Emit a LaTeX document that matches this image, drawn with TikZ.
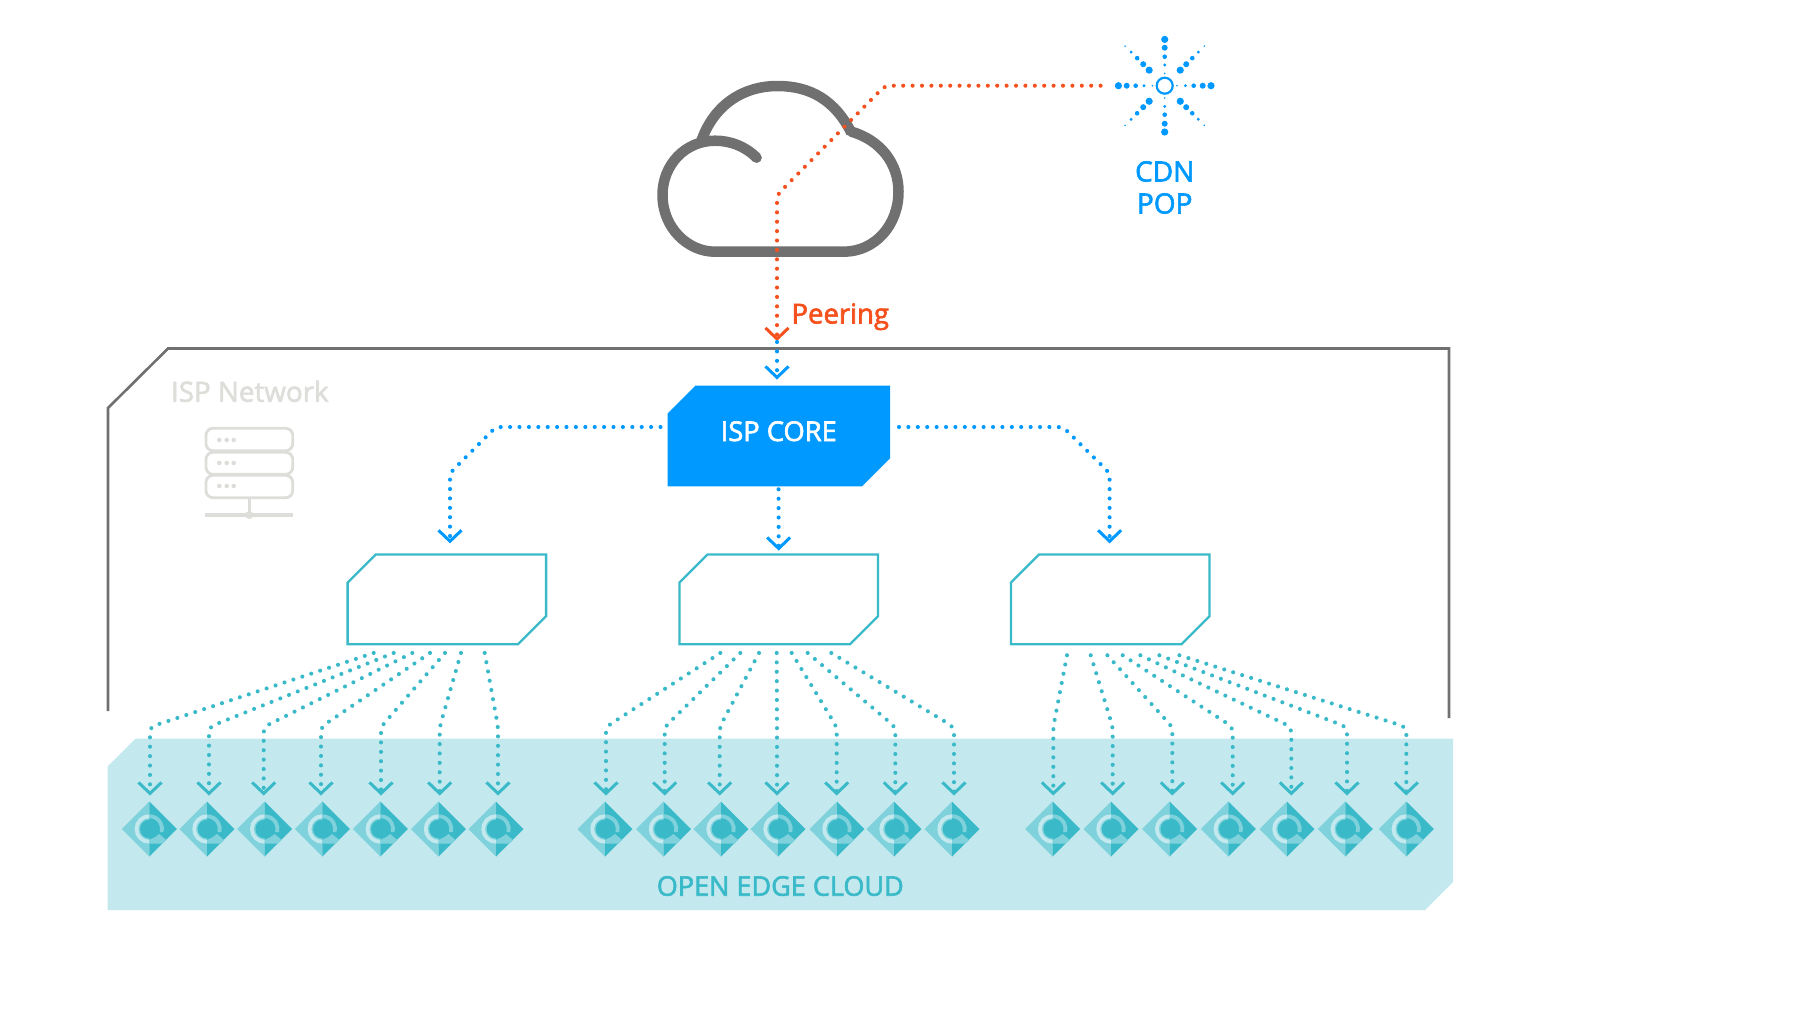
\documentclass[tikz,border=0pt]{standalone}
\usepackage{fontspec}
\setmainfont{Open Sans}
\usetikzlibrary{arrows.meta,calc,backgrounds}
\definecolor{cblue}{HTML}{0099FF}
\definecolor{corange}{HTML}{F4511E}
\definecolor{cteal}{HTML}{3ABAC8}
\definecolor{cmid}{HTML}{7FD2DB}
\definecolor{clight}{HTML}{C3E9EF}
\definecolor{cgrey}{HTML}{707070}
\definecolor{cpale}{HTML}{DDDDDA}
\newcommand{\lblfont}[1]{\fontsize{#1}{32}\selectfont}
\newcommand{\medtext}[1]{\special{pdf:code q 2 Tr 0.6 w}#1\special{pdf:code Q}}
\tikzset{
  dots/.style={line width=4.1pt,line cap=round,dash pattern=on 0pt off 9.4pt,rounded corners=5pt},
  vtip/.style={-{Straight Barb[length=11pt,width=23pt,line width=3pt]}},
  bluelink/.style={dots,vtip,color=cblue},
  orangelink/.style={dots,vtip,color=corange},
  teallink/.style={dots,vtip,color=cteal},
  anchorbox/.style={minimum width=#1,inner sep=0pt,outer sep=0pt},
  midbox/.style={anchorbox=198.5pt,minimum height=89.7pt},
  textlabel/.style={inner sep=0pt,outer sep=0pt},
  edgeicon/.pic={
    \fill[cmid] (0,-27.5) -- (-27.5,0) -- (0,27.5) -- cycle;
    \fill[cteal] (0,-27.5) -- (27.5,0) -- (0,27.5) -- cycle;
    \draw[clight,line width=3.8pt] (0,-12.8) arc[start angle=-90,end angle=-270,radius=12.8];
    \draw[cmid,line width=3.8pt] (0,-12.8) arc[start angle=-90,end angle=14,radius=12.8];
    \fill[cmid] (0,10.9) -- (6,8) -- (10,5) -- (17,11) -- (13.5,14.5) -- (0,14.7) -- cycle;
    \fill[cteal] (0,0) circle[radius=9.3];
  }
}
\newcommand{\chamfer}[3]{% node, style, cut
  \begin{pgfonlayer}{background}
  \path[#2] ($(#1.north west)+(#3,0)$) -- (#1.north east) -- ($(#1.south east)+(0,-#3)$)
    -- ($(#1.south east)+(-#3,0)$) -- (#1.south west) -- ($(#1.north west)+(0,#3)$) -- cycle;
  \end{pgfonlayer}
}
\begin{document}
\begin{tikzpicture}[x=1pt,y=-1pt]
\useasboundingbox (0,0) rectangle (1800,1013);

% ISP network outline
\draw[cgrey,line width=2.6pt] (108,711) -- (108,408) -- (168,348.5) -- (1449,348.5) -- (1449,718);

% Open edge cloud band
\node[anchorbox=1345.5pt,minimum height=171.3pt] (edge) at (780.25,824.35) {};
\chamfer{edge}{fill=clight}{28}
\node[textlabel,font=\lblfont{27},text=cteal,anchor=base] (edgelabel) at (780.3,895.7) {\medtext{OPEN EDGE CLOUD}};

% ISP network label and server icon
\node[textlabel,font=\lblfont{27.8},text=cpale,anchor=base west] (isplabel) at (171,401.7) {\medtext{ISP Network}};
\foreach \n/\ya/\yb in {1/428.3/450.7,2/452.3/474.3,3/475.3/497.7}{
  \draw[cpale,line width=2.8pt,rounded corners=7pt] (206,\ya) rectangle (292.7,\yb);
}
\foreach \yy in {440,463,486}{
  \foreach \xx in {219.3,226.7,233.7}{
    \fill[cpale] (\xx,\yy) circle[radius=2.3];
  }
}
\draw[cpale,line width=2.8pt] (249.3,497.7) -- (249.3,515);
\draw[cpale,line width=3.2pt] (205.3,515) -- (293,515);
\fill[cpale] (249.3,515) circle[radius=4];

% ISP core and distribution boxes
\node[anchorbox=222.5pt,minimum height=100.6pt,font=\lblfont{27.3},text=white,text height=10pt,text depth=0pt] (core) at (778.75,436) {\medtext{ISP CORE}};
\chamfer{core}{fill=cblue}{28}
\node[midbox] (boxL) at (446.85,599.4) {};
\node[midbox] (boxM) at (778.7,599.4) {};
\node[midbox] (boxR) at (1110.2,599.4) {};
\foreach \b in {boxL,boxM,boxR}{
  \chamfer{\b}{draw=cteal,line width=2.3pt,fill=white}{28}
}

% Cloud
\draw[cgrey,line width=10.5pt,line cap=round,line join=round]
  (756.6,157.7) .. controls (745,146) and (730,140.7) .. (715,140.7)
  .. controls (685,140.7) and (662.5,165) .. (662.5,195)
  .. controls (662.5,228) and (688,251.7) .. (715,251.7)
  -- (843.6,251.7)
  .. controls (875,251.7) and (898.5,225) .. (898.5,191.7)
  .. controls (898.5,163) and (880,140) .. (851.5,131.7);
\draw[cgrey,line width=10.5pt]
  (701,142) .. controls (713,106) and (742,86) .. (777.6,86)
  .. controls (810,86) and (835,100) .. (851.5,133);

% CDN POP star
\node[circle,draw=cblue,line width=2.2pt,minimum size=16pt,inner sep=0pt,outer sep=0pt] (pop) at (1164.7,85.7) {};
\foreach \ang in {0,90,180,270}{
  \foreach \d/\r in {46.3/3.6,38/3,29/2.3,20.7/1.6,12.3/0.9}{
    \fill[cblue] (pop.center) ++(\ang:\d) circle[radius=\r];
  }
}
\foreach \ang in {45,135,225,315}{
  \foreach \d/\r in {22/3.6,30.4/3,39/2.3,47.5/1.6,56/0.9}{
    \fill[cblue] (pop.center) ++(\ang:\d) circle[radius=\r];
  }
}
\node[textlabel,font=\lblfont{28},text=cblue,align=center,anchor=center] (poplabel) at (1164.7,187.5) {\medtext{CDN}\\\medtext{POP}};

% Peering
\coordinate (peer) at (777,341);
\draw[orangelink] ([xshift=-64.1pt]pop.center) -- (885,85.7) -- (777,195) -- (peer);
\node[textlabel,font=\lblfont{27.5},text=corange,anchor=base west] (peerlabel) at (791.5,323.5) {\medtext{Peering}};
\draw[bluelink] ($(peer)+(0,1)$) -- ([shift={(-1.75pt,6.2pt)}]core.north);

% Core to boxes
\draw[bluelink] ([shift={(-7pt,9pt)}]core.west) -- (496,427) -- (450,473) -- ([shift={(3.15pt,11.2pt)}]boxL.north);
\draw[bluelink] ([xshift=-0.2pt,yshift=-3pt]core.south) -- ([yshift=4pt]boxM.north);
\draw[bluelink] ([shift={(9pt,9pt)}]core.east) -- (1063,427) -- (1109.6,473) -- ([shift={(-0.6pt,11.2pt)}]boxR.north);

% Fans to edge nodes
\foreach \b/\yo/\dx/\vx/\ic in {
  boxL/-8.7/-73.15/150/149.3, boxL/-8.7/-53.15/209/207, boxL/-8.7/-34.55/263.7/264.7,
  boxL/-8.7/-16.85/321/322.3, boxL/-8.7/-1.85/381/380.3, boxL/-8.7/14.15/439.7/438.5, boxL/-8.7/37.85/498/496,
  boxM/-8.7/-58.4/606/605, boxM/-8.7/-38.4/664.7/663.5, boxM/-8.7/-19.7/719.7/721,
  boxM/-8.7/-2/777/778, boxM/-8.7/13/836.7/837, boxM/-8.7/29/895.3/894, boxM/-8.7/52.6/954/952,
  boxR/-11/-43.2/1053.3/1052.7, boxR/-11/-19.5/1112.7/1111, boxR/-11/-2.8/1172.3/1169.7,
  boxR/-11/12.5/1232.7/1228.3, boxR/-11/30.2/1291.3/1287, boxR/-11/49.2/1347/1345.3, boxR/-11/69.2/1406.3/1406.3}{
  \coordinate (elbow) at (\vx,727);
  \coordinate (tipend) at (\vx,795.5);
  \draw[teallink] ([xshift=\dx pt,yshift=\yo pt]\b.south) -- (elbow) -- (tipend);
  \pic at (\ic,829) {edgeicon};
}
\end{tikzpicture}
\end{document}
